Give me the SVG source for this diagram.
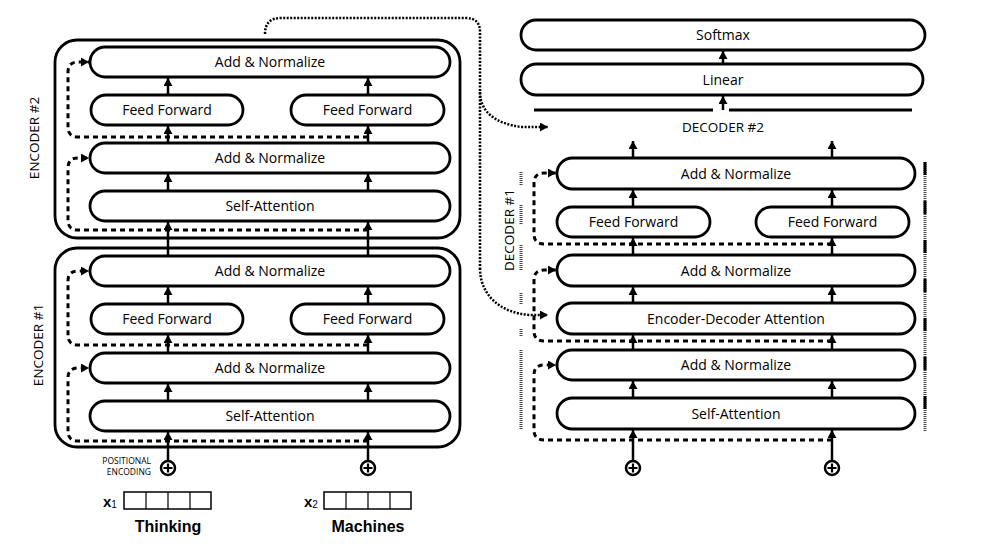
<svg xmlns="http://www.w3.org/2000/svg" width="1005" height="548" viewBox="0 0 1005 548">
<style>
  .box{fill:#fff;stroke:#000;stroke-width:2.8}
  .outer{fill:none;stroke:#000;stroke-width:2.8}
  .lbl{font-family:"Open Sans","DejaVu Sans",sans-serif;font-size:14px;text-anchor:middle;fill:#000}
  .side{font-family:"Open Sans","DejaVu Sans",sans-serif;font-size:13.5px;text-anchor:middle;fill:#000}
  .arr{stroke:#000;stroke-width:2.5;fill:none;marker-end:url(#ah)}
  .res{stroke:#000;stroke-width:3;fill:none;stroke-dasharray:5 4;marker-end:url(#ah)}
  .dot{stroke:#000;stroke-width:2.5;fill:none;stroke-dasharray:2 1.5}
  .plus{fill:#fff;stroke:#000;stroke-width:2.5}
  .word{font-family:"Liberation Sans",Arial,sans-serif;font-weight:bold;font-size:16px;text-anchor:middle;fill:#000}
  .emb{fill:#fff;stroke:#000;stroke-width:1.5}
  .faint{stroke:#444;stroke-width:3;stroke-dasharray:1 1;fill:none}
</style>
<defs>
  <marker id="ah" markerUnits="userSpaceOnUse" markerWidth="10" markerHeight="10" refX="8" refY="4.5" orient="auto">
    <path d="M0,0 L8,4.5 L0,9 z" fill="#000"/>
  </marker>
</defs>
<rect width="1005" height="548" fill="#fff"/>

<g id="encoder2">
  <rect class="outer" x="55" y="40" width="405" height="198" rx="22"/>
  <text class="side" transform="translate(39,138) rotate(-90)">ENCODER #2</text>
</g>
<g id="encoder1">
  <rect class="outer" x="55" y="248" width="405" height="199" rx="22"/>
  <text class="side" transform="translate(43,345) rotate(-90)">ENCODER #1</text>
</g>

<g id="decoder1">
  <text class="side" transform="translate(514,230) rotate(-90)">DECODER #1</text>
  <path class="faint" d="M521,172V186M521,205V225M521,245V270M521,293V305M521,329V337M521,350V430"/>
  <line x1="925" y1="162" x2="925" y2="432" stroke="#444" stroke-width="3" stroke-dasharray="1 1"/>
  <line x1="925" y1="162" x2="925" y2="432" stroke="#000" stroke-width="3" stroke-dasharray="13 26"/>
</g>
<g id="decoder2">
  <path d="M534,110H713M729,110H912" stroke="#000" stroke-width="3" fill="none"/>
  <text class="side" x="723" y="132">DECODER #2</text>
</g>

<g id="e2_addnorm2"><rect class="box" x="90" y="47" width="360" height="30" rx="15"/><text class="lbl" x="270" y="67">Add &amp; Normalize</text></g>
<g id="e2_ff1"><rect class="box" x="91" y="95" width="152" height="30" rx="15"/><text class="lbl" x="167" y="115">Feed Forward</text></g>
<g id="e2_ff2"><rect class="box" x="291" y="95" width="153" height="30" rx="15"/><text class="lbl" x="367.5" y="115">Feed Forward</text></g>
<g id="e2_addnorm1"><rect class="box" x="90" y="143" width="360" height="30" rx="15"/><text class="lbl" x="270" y="163">Add &amp; Normalize</text></g>
<g id="e2_selfattn"><rect class="box" x="90" y="191" width="360" height="30" rx="15"/><text class="lbl" x="270" y="211">Self-Attention</text></g>

<g id="e1_addnorm2"><rect class="box" x="90" y="256" width="360" height="30" rx="15"/><text class="lbl" x="270" y="276">Add &amp; Normalize</text></g>
<g id="e1_ff1"><rect class="box" x="91" y="304" width="152" height="30" rx="15"/><text class="lbl" x="167" y="324">Feed Forward</text></g>
<g id="e1_ff2"><rect class="box" x="291" y="304" width="153" height="30" rx="15"/><text class="lbl" x="367.5" y="324">Feed Forward</text></g>
<g id="e1_addnorm1"><rect class="box" x="90" y="353" width="360" height="30" rx="15"/><text class="lbl" x="270" y="373">Add &amp; Normalize</text></g>
<g id="e1_selfattn"><rect class="box" x="90" y="401" width="360" height="30" rx="15"/><text class="lbl" x="270" y="421">Self-Attention</text></g>

<g id="softmax"><rect class="box" x="521" y="20" width="404" height="30" rx="15"/><text class="lbl" x="723" y="40">Softmax</text></g>
<g id="linear"><rect class="box" x="521" y="64" width="402" height="31" rx="15.5"/><text class="lbl" x="723" y="84.5">Linear</text></g>
<g id="d1_addnorm3"><rect class="box" x="557" y="158" width="358" height="31" rx="15.5"/><text class="lbl" x="736" y="178.5">Add &amp; Normalize</text></g>
<g id="d1_ff1"><rect class="box" x="557" y="207" width="153" height="30" rx="15"/><text class="lbl" x="633.5" y="227">Feed Forward</text></g>
<g id="d1_ff2"><rect class="box" x="756" y="207" width="153" height="30" rx="15"/><text class="lbl" x="832.5" y="227">Feed Forward</text></g>
<g id="d1_addnorm2"><rect class="box" x="557" y="255" width="358" height="31" rx="15.5"/><text class="lbl" x="736" y="275.5">Add &amp; Normalize</text></g>
<g id="d1_encdec"><rect class="box" x="557" y="303" width="358" height="31" rx="15.5"/><text class="lbl" x="736" y="323.5">Encoder-Decoder Attention</text></g>
<g id="d1_addnorm1"><rect class="box" x="557" y="350" width="358" height="30" rx="15"/><text class="lbl" x="736" y="370">Add &amp; Normalize</text></g>
<g id="d1_selfattn"><rect class="box" x="557" y="398" width="358" height="31" rx="15.5"/><text class="lbl" x="736" y="418.5">Self-Attention</text></g>

<g id="pos_enc">
  <text font-family="'Open Sans','DejaVu Sans',sans-serif" font-size="8.5" text-anchor="end" x="151" y="464">POSITIONAL</text>
  <text font-family="'Open Sans','DejaVu Sans',sans-serif" font-size="8.5" text-anchor="end" x="151" y="475">ENCODING</text>
</g>
<g id="plus_e1"><circle class="plus" cx="168" cy="468" r="7"/><path d="M163.5,468H172.5M168,463.5V472.5" stroke="#000" stroke-width="2.2"/></g>
<g id="plus_e2"><circle class="plus" cx="368" cy="468" r="7"/><path d="M363.5,468H372.5M368,463.5V472.5" stroke="#000" stroke-width="2.2"/></g>
<g id="plus_d1"><circle class="plus" cx="633" cy="468" r="7"/><path d="M628.5,468H637.5M633,463.5V472.5" stroke="#000" stroke-width="2.2"/></g>
<g id="plus_d2"><circle class="plus" cx="832" cy="468" r="7"/><path d="M827.5,468H836.5M832,463.5V472.5" stroke="#000" stroke-width="2.2"/></g>

<g id="x1">
  <text font-family="'Liberation Sans',Arial,sans-serif" font-weight="bold" font-size="15" x="103" y="507">x<tspan font-size="10" font-weight="normal" dy="1">1</tspan></text>
  <rect class="emb" x="124" y="492" width="87" height="17"/>
  <path d="M146,492V509M168,492V509M190,492V509" stroke="#000" stroke-width="1.2"/>
  <text class="word" x="168" y="532">Thinking</text>
</g>
<g id="x2">
  <text font-family="'Liberation Sans',Arial,sans-serif" font-weight="bold" font-size="15" x="304" y="507">x<tspan font-size="10" font-weight="normal" dy="1">2</tspan></text>
  <rect class="emb" x="324" y="492" width="87" height="17"/>
  <path d="M346,492V509M368,492V509M390,492V509" stroke="#000" stroke-width="1.2"/>
  <text class="word" x="368" y="532">Machines</text>
</g>

<g id="connectors">
  <line class="arr" x1="168" y1="461" x2="168" y2="432"/>
  <line class="arr" x1="368" y1="461" x2="368" y2="432"/>
  <line class="arr" x1="168" y1="401" x2="168" y2="384"/>
  <line class="arr" x1="368" y1="401" x2="368" y2="384"/>
  <line class="arr" x1="168" y1="353" x2="168" y2="335"/>
  <line class="arr" x1="368" y1="353" x2="368" y2="335"/>
  <line class="arr" x1="168" y1="304" x2="168" y2="287"/>
  <line class="arr" x1="368" y1="304" x2="368" y2="287"/>
  <line class="arr" x1="168" y1="256" x2="168" y2="222"/>
  <line class="arr" x1="368" y1="256" x2="368" y2="222"/>
  <line class="arr" x1="168" y1="191" x2="168" y2="174"/>
  <line class="arr" x1="368" y1="191" x2="368" y2="174"/>
  <line class="arr" x1="168" y1="143" x2="168" y2="126"/>
  <line class="arr" x1="368" y1="143" x2="368" y2="126"/>
  <line class="arr" x1="168" y1="95" x2="168" y2="78"/>
  <line class="arr" x1="368" y1="95" x2="368" y2="78"/>
  <path class="res" d="M368,441H78Q68,441 68,431V378Q68,368 78,368H89"/>
  <path class="res" d="M368,345H78Q68,345 68,335V281Q68,271 78,271H89"/>
  <path class="res" d="M368,230H78Q68,230 68,220V168Q68,158 78,158H89"/>
  <path class="res" d="M368,137H78Q68,137 68,127V72Q68,62 78,62H89"/>
  <line class="arr" x1="633" y1="461" x2="633" y2="430"/>
  <line class="arr" x1="832" y1="461" x2="832" y2="430"/>
  <line class="arr" x1="633" y1="398" x2="633" y2="381"/>
  <line class="arr" x1="832" y1="398" x2="832" y2="381"/>
  <line class="arr" x1="633" y1="350" x2="633" y2="335"/>
  <line class="arr" x1="832" y1="350" x2="832" y2="335"/>
  <line class="arr" x1="633" y1="303" x2="633" y2="287"/>
  <line class="arr" x1="832" y1="303" x2="832" y2="287"/>
  <line class="arr" x1="633" y1="255" x2="633" y2="238"/>
  <line class="arr" x1="832" y1="255" x2="832" y2="238"/>
  <line class="arr" x1="633" y1="207" x2="633" y2="190"/>
  <line class="arr" x1="832" y1="207" x2="832" y2="190"/>
  <line class="arr" x1="633" y1="158" x2="633" y2="141"/>
  <line class="arr" x1="832" y1="158" x2="832" y2="141"/>
  <line class="arr" x1="723" y1="110" x2="723" y2="96"/>
  <line class="arr" x1="723" y1="64" x2="723" y2="51"/>
  <path class="res" d="M832,440H544Q534,440 534,430V375Q534,365 544,365H556"/>
  <path class="res" d="M832,341H544Q534,341 534,331V280Q534,270 544,270H556"/>
  <path class="res" d="M832,244H544Q534,244 534,234V183Q534,173 544,173H556"/>
  <path class="dot" d="M265,34Q265,18 281,18H466Q480,18 480,32V270"/>
  <path class="dot" d="M480,92C480,112 496,124 522,127H548" marker-end="url(#ah)"/>
  <path class="dot" d="M480,268C480,295 500,313 530,315H548" marker-end="url(#ah)"/>
</g>
</svg>
